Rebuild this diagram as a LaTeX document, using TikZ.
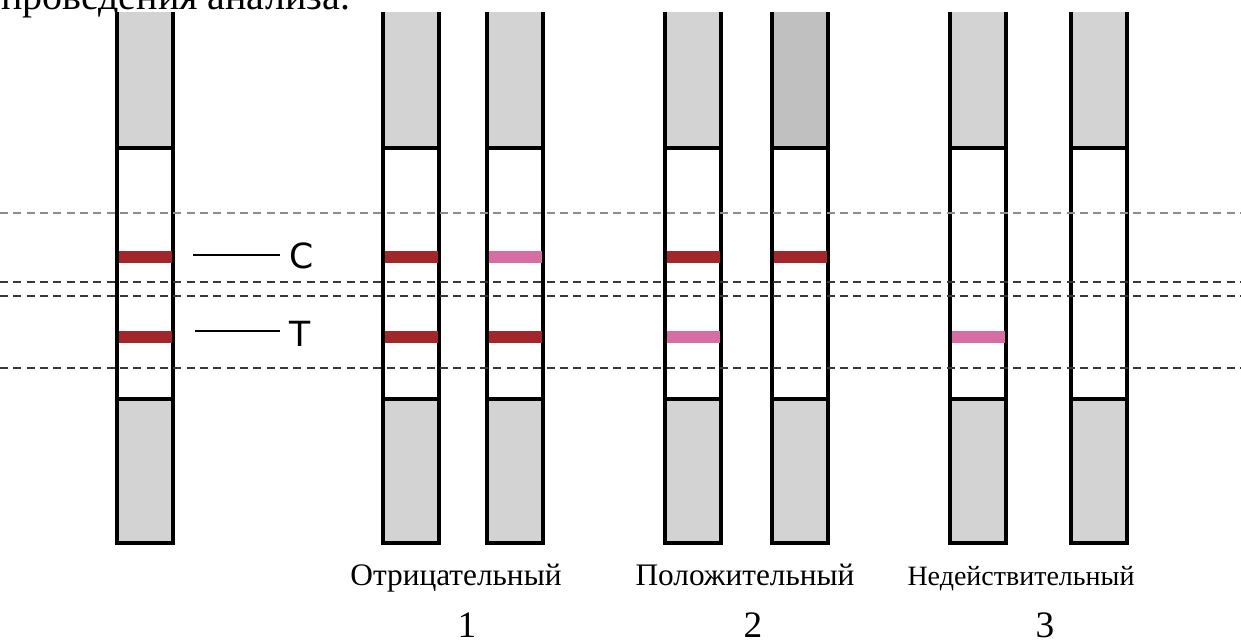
\documentclass[tikz,border=0pt]{standalone}
\usepackage{fontspec}
\setmainfont{Liberation Serif}
\newfontfamily\labelsans{DejaVu Sans}
\definecolor{stripgray}{HTML}{D3D3D3}
\definecolor{stripdark}{HTML}{C0C0C0}
\definecolor{bandred}{HTML}{A3262A}
\definecolor{bandpink}{HTML}{D66DA3}
\tikzset{
  guide/.style={line width=1.6pt, dash pattern=on 6pt off 4pt, color=black!78},
  guidelight/.style={guide, color=black!45},
  border/.style={line width=2.8pt, color=black},
  bandline/.style={line width=9.5pt},
  leader/.style={line width=1.5pt, color=black},
  letter/.style={font=\labelsans\fontsize{26}{30}\selectfont, inner sep=7pt},
  result/.style={font=\fontsize{23.5}{28}\selectfont, anchor=base},
  number/.style={font=\fontsize{28}{32}\selectfont, anchor=base, inner sep=0pt},
}
\begin{document}
\begin{tikzpicture}[x=0.75pt,y=-0.75pt]
\useasboundingbox (0,0) rectangle (1241,642);
\clip (0,0) rectangle (1241,642);

% heading line running over the top edge
\node[anchor=base west, font=\fontsize{30}{34}\selectfont, inner sep=0pt] (head) at (1,9.5) {проведения анализа.};

% test strips: left edge, top colour
\foreach \sx/\tc [count=\i] in {117/stripgray, 383/stripgray, 487/stripgray, 665/stripgray, 772/stripdark, 950/stripgray, 1071/stripgray}{
  \fill[\tc] (\sx,12) rectangle (\sx+56,148);
  \fill[stripgray] (\sx,399) rectangle (\sx+56,543);
  \draw[border] (\sx,12) -- (\sx,543) -- (\sx+56,543) -- (\sx+56,12);
  \draw[border] (\sx,148) -- (\sx+56,148);
  \draw[border] (\sx,399) -- (\sx+56,399);
  \coordinate (s\i) at (\sx,0);
}

% reading zone guides
\draw[guidelight] (0,213) -- (1241,213);
\draw[guide] (0,282) -- (1241,282);
\draw[guide] (0,296) -- (1241,296);
\draw[guide] (0,368) -- (1241,368);

% control (C) and test (T) bands
\foreach \sx/\cc/\tcol in {117/bandred/bandred, 383/bandred/bandred, 487/bandpink/bandred, 665/bandred/bandpink, 772/bandred/none, 950/none/bandpink, 1071/none/none}{
  \draw[bandline, draw=\cc] (\sx+2,257) -- (\sx+54.5,257);
  \draw[bandline, draw=\tcol] (\sx+2,337) -- (\sx+54.5,337);
}

% band labels
\node[letter] (C) at (301.5,256) {C};
\node[letter] (T) at (300.5,334) {T};
\coordinate (cl) at (193,254.5);
\coordinate (tl) at (195,330.5);
\draw[leader] (cl) -- (C.west |- cl);
\draw[leader] (tl) -- (T.west |- tl);

% results
\node[result] (neg) at (456,585) {Отрицательный};
\node[result] (pos) at (745,585) {Положительный};
\node[result, font=\fontsize{21}{26}\selectfont] (inv) at (1021,585) {Недействительный};
\node[number] (n1) at (467,637) {1};
\node[number] (n2) at (753,637) {2};
\node[number] (n3) at (1045,637) {3};
\end{tikzpicture}
\end{document}
